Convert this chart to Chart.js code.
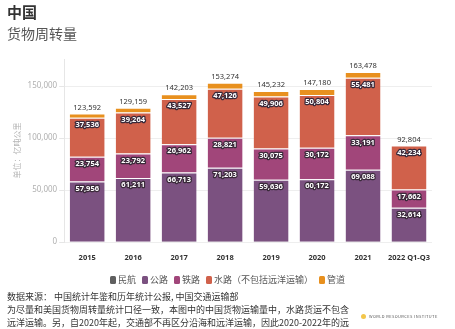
<!DOCTYPE html>
<html>
<head>
<meta charset="utf-8">
<script src="https://cdn.jsdelivr.net/npm/chart.js@4"></script>
<style>
  body { margin: 0; width: 455px; height: 329px; position: relative; overflow: hidden; background: #fff;
         font-family: "Noto Sans CJK SC", "Noto Sans", sans-serif; }
  #wrap { position: absolute; left: 0; top: 0; width: 455px; height: 329px; }
  .title { position: absolute; left: 7px; top: 3px; font-size: 15px; font-weight: bold; color: #333; line-height: 18px; }
  .sub { position: absolute; left: 7px; top: 24px; font-size: 14px; color: #555; line-height: 18px; }
  #legend { position: absolute; left: 0; width: 455px; top: 273px; text-align: center; font-size: 9px; color: #555; white-space: nowrap; }
  #legend span { display: inline-block; margin: 0 3px; }
  #legend i { display: inline-block; width: 6px; height: 8px; border-radius: 1.5px; margin-right: 2px; vertical-align: -1px; }
  .note { position: absolute; left: 7px; top: 290px; font-size: 9px; line-height: 13px; color: #333; white-space: nowrap; }
  .wri { position: absolute; left: 361px; top: 313px; font-size: 4px; letter-spacing: 0.4px; color: #555; white-space: nowrap; }
  .wri b { display: inline-block; width: 5px; height: 5px; border-radius: 50%; background: #f3c64a; margin-right: 3px; vertical-align: -1px; }
</style>
</head>
<body>
<div id="wrap"><canvas id="myChart" width="455" height="329"></canvas></div>
<div class="title">中国</div>
<div class="sub">货物周转量</div>
<div id="legend"></div>
<div class="note">数据来源： 中国统计年鉴和历年统计公报, 中国交通运输部<br>为尽量和美国货物周转量统计口径一致，本图中的中国货物运输量中，水路货运不包含<br>远洋运输。另，自2020年起，交通部不再区分沿海和远洋运输，因此2020-2022年的远</div>
<div class="wri"><b></b>WORLD RESOURCES INSTITUTE</div>
<script>
// 年份
const years = ['2015', '2016', '2017', '2018', '2019', '2020', '2021', '2022 Q1-Q3'];

// 各运输方式 (亿吨公里)
const aviation = [208, 222, 244, 262, 263, 240, 279, 294];
const road = [57956, 61211, 66713, 71203, 59636, 60172, 69088, 32614];
const rail = [23754, 23792, 26962, 28821, 30075, 30172, 33191, 17662];
const water = [37536, 39264, 43527, 47126, 49906, 50804, 55481, 42234];
const pipeline = [4138, 4670, 4757, 5862, 5352, 5792, 5439, 0];
const totals = [123592, 129159, 142203, 153274, 145232, 147180, 163478, 92804];

const seriesNames = ['民航', '公路', '铁路', '水路（不包括远洋运输）', '管道'];
const colors = ['#5f5f5f', '#7b5180', '#a1467a', '#d0614b', '#e8901e'];
const yTicks = [0, 50000, 100000, 150000];

// 图例
const legend = document.getElementById('legend');
seriesNames.forEach((n, i) => {
  legend.innerHTML += '<span><i style="background:' + colors[i] + '"></i>' + n + '</span>';
});

const fmt = v => v.toLocaleString('en-US');

// 柱内数值 + 顶部合计
const labelPlugin = {
  id: 'labels',
  afterDatasetsDraw(chart) {
    const ctx = chart.ctx;
    ctx.save();
    ctx.textAlign = 'center';
    ctx.textBaseline = 'middle';
    [1, 2, 3].forEach(di => {
      const meta = chart.getDatasetMeta(di);
      meta.data.forEach((bar, i) => {
        const txt = fmt(chart.data.datasets[di].data[i]);
        ctx.font = 'bold 7.5px "Noto Sans", sans-serif';
        ctx.lineWidth = 2.5;
        ctx.lineJoin = 'round';
        ctx.strokeStyle = '#3a2a3a';
        ctx.strokeText(txt, bar.x, bar.y + 7);
        ctx.fillStyle = '#fff';
        ctx.fillText(txt, bar.x, bar.y + 7);
      });
    });
    const y = chart.scales.y;
    chart.getDatasetMeta(1).data.forEach((bar, i) => {
      ctx.font = '7.5px "Noto Sans", sans-serif';
      ctx.fillStyle = '#333';
      ctx.fillText(fmt(totals[i]), bar.x, y.getPixelForValue(totals[i]) - 6);
    });
    ctx.restore();
  }
};

const ctx = document.getElementById('myChart').getContext('2d');
new Chart(ctx, {
  type: 'bar',
  data: {
    labels: years,
    datasets: [aviation, road, rail, water, pipeline].map((d, i) => ({
      label: seriesNames[i],
      data: d,
      backgroundColor: colors[i],
      borderColor: 'rgba(255,255,255,0.55)',
      borderWidth: { top: 1, left: 0, right: 0, bottom: 0 },
      borderSkipped: false,
      categoryPercentage: 1,
      barPercentage: 0.76
    }))
  },
  options: {
    responsive: false,
    animation: false,
    layout: { padding: { top: 59, bottom: 64, left: 8, right: 23 } },
    plugins: { legend: { display: false }, tooltip: { enabled: false } },
    scales: {
      x: {
        stacked: true,
        grid: { display: false },
        border: { display: false },
        ticks: { color: '#333', font: { size: 7.5, weight: 'bold', family: '"Noto Sans", sans-serif' }, padding: 3,
                 maxRotation: 0, minRotation: 0, autoSkip: false }
      },
      y: {
        stacked: true,
        min: 0,
        max: 176000,
        afterBuildTicks: axis => { axis.ticks = yTicks.map(v => ({ value: v })); },
        grid: { color: '#eeeeee', tickLength: 5, tickColor: '#e6e6e6' },
        border: { display: true, color: '#e6e6e6' },
        ticks: { color: '#b0b0b0', font: { size: 8, family: '"Noto Sans", sans-serif' }, padding: 2,
                 callback: v => fmt(v) },
        title: { display: true, text: '单位：亿吨公里', color: '#b5b5b5', font: { size: 8, family: '"Noto Sans CJK SC"' }, padding: 4 }
      }
    }
  },
  plugins: [labelPlugin]
});
</script>
</body>
</html>
